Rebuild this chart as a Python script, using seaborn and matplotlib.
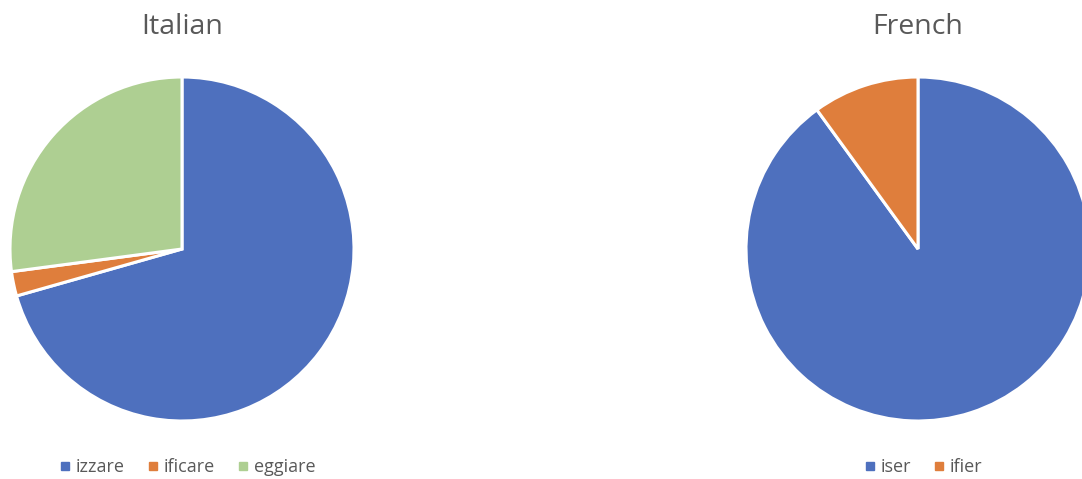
import matplotlib
matplotlib.use("Agg")
import matplotlib.pyplot as plt
from matplotlib.lines import Line2D
import seaborn as sns

italian_labels = ["izzare", "ificare", "eggiare"]
italian_values = [70.6, 2.3, 27.1]
french_labels = ["iser", "ifier"]
french_values = [90.0, 10.0]
palette = sns.color_palette(["#4E70BE", "#DF7E3C", "#AECF92"])

sns.set_theme(style="white")
plt.rcParams["font.family"] = ["Open Sans", "DejaVu Sans"]

W, H = 1082, 479
fig = plt.figure(figsize=(W / 100, H / 100), dpi=100)
fig.patch.set_facecolor("white")

def add_pie(cx, cy, r, values, labels, title, legend_cx):
    ax = fig.add_axes([(cx - r) / W, (H - cy - r) / H, 2 * r / W, 2 * r / H])
    ax.pie(values, colors=palette[:len(values)], startangle=90, counterclock=False,
           wedgeprops=dict(edgecolor="white", linewidth=2.2), radius=1.0)
    ax.set_xlim(-1.0, 1.0)
    ax.set_ylim(-1.0, 1.0)
    ax.set_aspect("equal")
    ax.axis("off")
    fig.text(cx / W, 1 - 27 / H, title, ha="center", va="center",
             fontsize=20.5, color="#595959")
    handles = [Line2D([0], [0], marker="s", linestyle="none", markersize=5.5,
                      markerfacecolor=palette[i], markeredgecolor=palette[i])
               for i in range(len(values))]
    fig.legend(handles, labels, loc="center", bbox_to_anchor=(legend_cx / W, 1 - 467 / H),
               ncol=len(values), frameon=False, fontsize=13, labelcolor="#595959",
               handletextpad=0.15, columnspacing=1.1, handlelength=0.9)

add_pie(182, 249, 172, italian_values, italian_labels, "Italian", 186)
add_pie(918, 249, 172, french_values, french_labels, "French", 922)

fig.savefig("out.png", dpi=100, facecolor="white")
